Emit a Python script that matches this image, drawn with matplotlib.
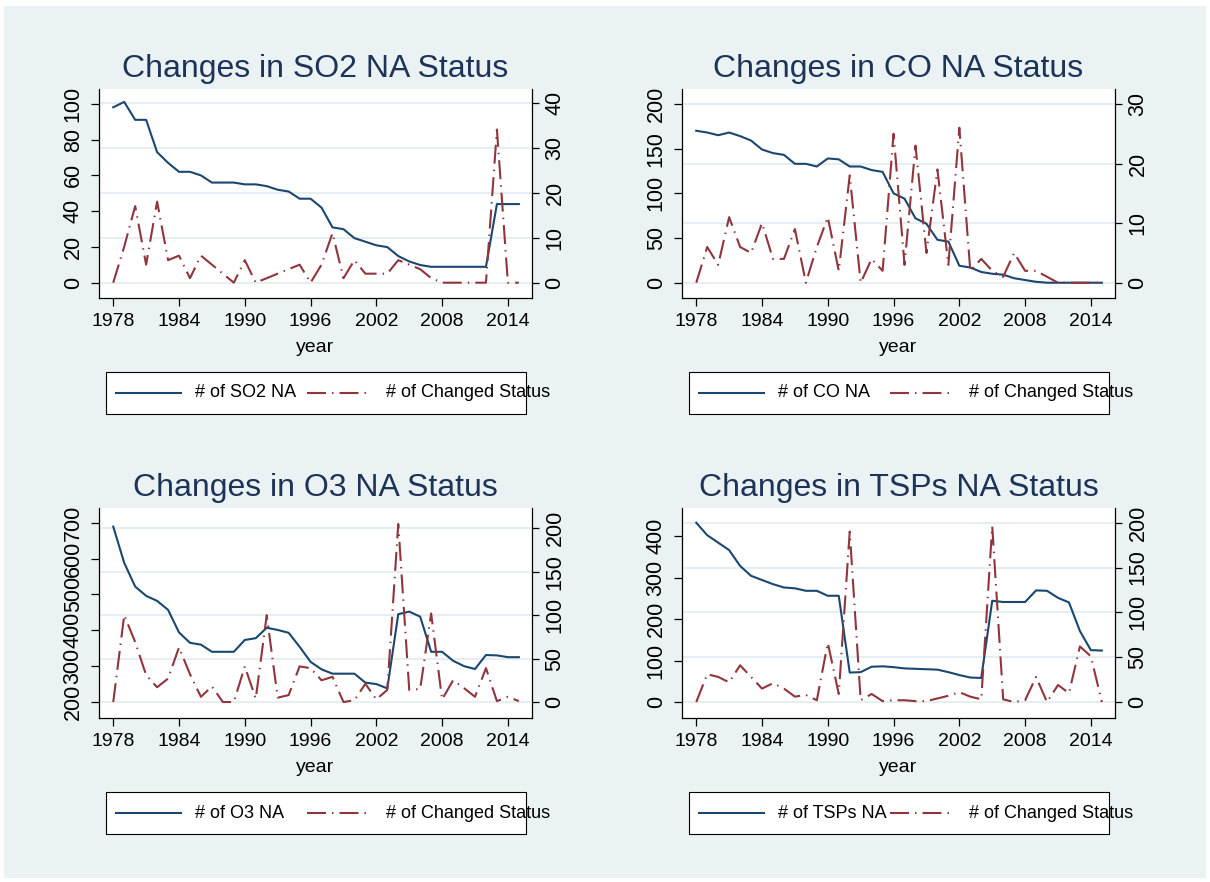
import matplotlib
matplotlib.use("Agg")
import matplotlib.pyplot as plt
from matplotlib.patches import Rectangle
from matplotlib.lines import Line2D

plt.rcParams["font.family"] = ["Liberation Sans", "DejaVu Sans"]

W, H = 1210, 882
BG = "#EAF2F3"
NAVY = "#1A476F"
MAROON = "#90353B"
TITLE_C = "#1E3358"

years = list(range(1978, 2016))
xticks = [1978, 1984, 1990, 1996, 2002, 2008, 2014]

so2_na = [98, 101, 91, 91, 73, 67, 62, 62, 60, 56, 56, 56, 55, 55, 54, 52, 51, 47, 47,
          42, 31, 30, 25, 23, 21, 20, 15, 12, 10, 9, 9, 9, 9, 9, 9, 44, 44, 44]
so2_chg = [0, 8, 17, 4, 18, 5, 6, 1, 6, 4, 2, 0, 5, 0, 1, 2, 3, 4, 0,
           4, 11, 1, 5, 2, 2, 2, 5, 4, 3, 1, 0, 0, 0, 0, 0, 34, 0, 0]

co_na = [170, 168, 165, 168, 164, 159, 149, 145, 143, 133, 133, 130, 139, 138, 130, 130, 126, 124, 100,
         94, 72, 66, 48, 46, 19, 17, 12, 10, 9, 5, 3, 1, 0, 0, 0, 0, 0, 0]
co_chg = [0, 6, 3, 11, 6, 5, 10, 4, 4, 9, 0, 6, 11, 2, 18, 0, 4, 2, 25,
          3, 23, 5, 19, 3, 26, 2, 4, 2, 1, 5, 2, 2, 1, 0, 0, 0, 0, 0]

o3_na = [689, 588, 522, 496, 482, 457, 394, 365, 360, 340, 340, 340, 373, 378, 407, 401, 393, 354, 312,
         291, 279, 279, 279, 254, 250, 238, 445, 452, 438, 340, 340, 315, 300, 292, 331, 330, 325, 325]
o3_chg = [0, 100, 69, 31, 17, 27, 63, 32, 6, 18, 0, 0, 41, 4, 100, 5, 8, 41, 39,
          25, 29, 0, 2, 21, 3, 14, 205, 14, 15, 102, 3, 25, 16, 6, 39, 1, 6, 1]

tsp_na = [432, 402, 384, 366, 328, 304, 294, 284, 276, 274, 268, 268, 256, 256, 71, 72, 85, 86, 84,
          81, 80, 79, 78, 72, 65, 59, 58, 244, 241, 241, 241, 269, 268, 251, 240, 171, 125, 124]
tsp_chg = [0, 31, 28, 22, 41, 28, 15, 21, 15, 6, 8, 2, 66, 9, 190, 2, 9, 1, 2,
           2, 1, 1, 4, 7, 11, 6, 3, 196, 3, 0, 2, 28, 0, 19, 10, 62, 51, 0]

panels = [
    dict(title="Changes in SO2 NA Status", label="# of SO2 NA", na=so2_na, chg=so2_chg,
         box=(99, 89, 532, 298), lylim=(-8.4, 108.2), lticks=[0, 20, 40, 60, 80, 100],
         rylim=(-3.4, 43.0), rticks=[0, 10, 20, 30, 40]),
    dict(title="Changes in CO NA Status", label="# of CO NA", na=co_na, chg=co_chg,
         box=(682, 89, 1115, 298), lylim=(-17.1, 216.7), lticks=[0, 50, 100, 150, 200],
         rylim=(-2.56, 32.5), rticks=[0, 10, 20, 30]),
    dict(title="Changes in O3 NA Status", label="# of O3 NA", na=o3_na, chg=o3_chg,
         box=(99, 508, 532, 718), lylim=(155.4, 741), lticks=[200, 300, 400, 500, 600, 700],
         rylim=(-18.4, 223.4), rticks=[0, 50, 100, 150, 200]),
    dict(title="Changes in TSPs NA Status", label="# of TSPs NA", na=tsp_na, chg=tsp_chg,
         box=(682, 508, 1115, 718), lylim=(-38.5, 467.5), lticks=[0, 100, 200, 300, 400],
         rylim=(-17.8, 216.4), rticks=[0, 50, 100, 150, 200]),
]


def fx(x):
    return x / W


def fy(y):
    return 1 - y / H


fig = plt.figure(figsize=(W / 100, H / 100), dpi=100)
fig.patch.set_facecolor("white")
fig.add_artist(Rectangle((fx(4), fy(878)), fx(1202), 872 / H, transform=fig.transFigure,
                         facecolor=BG, edgecolor="none", zorder=-10))

red_ls = (0, (9.1, 2.9, 0.7, 2.9))

for p in panels:
    x0, y0, x1, y1 = p["box"]
    ax = fig.add_axes([fx(x0), fy(y1), (x1 - x0) / W, (y1 - y0) / H])
    ax2 = ax.twinx()

    ax.set_xlim(1976.7, 2016.2)
    ax.set_ylim(*p["lylim"])
    ax2.set_ylim(*p["rylim"])

    # gridlines follow the right axis ticks
    r0, r1 = p["rylim"]
    for v in p["rticks"]:
        f = (v - r0) / (r1 - r0)
        ax.plot([0, 1], [f, f], transform=ax.transAxes, color="#E6EEF1", lw=1.4, zorder=0.5)

    ax.plot(years, p["na"], color=NAVY, lw=1.5, zorder=2)
    ax2.plot(years, p["chg"], color=MAROON, lw=1.5, linestyle=red_ls, zorder=2)

    for a in (ax, ax2):
        a.spines["top"].set_visible(False)
        for s in a.spines.values():
            s.set_linewidth(0.9)
            s.set_color("black")
    ax.spines["right"].set_visible(False)
    ax2.spines["left"].set_visible(False)
    ax2.spines["bottom"].set_visible(False)

    ax.set_xticks(xticks)
    ax.set_xticklabels([str(t) for t in xticks], fontsize=14)
    ax.tick_params(axis="x", direction="out", length=6, width=0.9, pad=5)

    ax.set_yticks(p["lticks"])
    ax.set_yticklabels([str(t) for t in p["lticks"]], fontsize=15.5, rotation=90, va="center")
    ax.tick_params(axis="y", direction="out", length=6, width=0.9, pad=5)

    ax2.set_yticks(p["rticks"])
    ax2.set_yticklabels([str(t) for t in p["rticks"]], fontsize=15.5, rotation=90, va="center")
    ax2.tick_params(axis="y", direction="out", length=5, width=0.9, pad=4)

    ax.set_xlabel("year", fontsize=14, labelpad=6)

    cx = (x0 + x1) / 2
    fig.text(fx(cx), fy(y0 - 12), p["title"], fontsize=23, color=TITLE_C,
             ha="center", va="baseline")

    # legend box below the panel
    L = x0 + 7
    top = y1 + 74
    bot = top + 42
    mid = (top + bot) / 2
    fig.add_artist(Rectangle((fx(L), fy(bot)), 420 / W, 42 / H, transform=fig.transFigure,
                             facecolor="white", edgecolor="black", lw=0.8, zorder=3))
    fig.add_artist(Line2D([fx(L + 10), fx(L + 75)], [fy(mid), fy(mid)], transform=fig.transFigure,
                          color=NAVY, lw=1.5, zorder=4))
    fig.add_artist(Line2D([fx(L + 201), fx(L + 262)], [fy(mid), fy(mid)], transform=fig.transFigure,
                          color=MAROON, lw=1.5, linestyle=red_ls, zorder=4))
    fig.text(fx(L + 89), fy(mid), p["label"], fontsize=13, va="center", ha="left", zorder=5)
    fig.text(fx(L + 280), fy(mid), "# of Changed Status", fontsize=13, va="center", ha="left", zorder=5)

fig.savefig("out.png", dpi=100)
